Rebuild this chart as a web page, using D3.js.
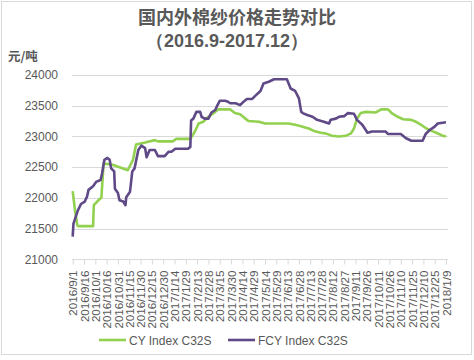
<!DOCTYPE html>
<html><head><meta charset="utf-8">
<script src="https://cdn.jsdelivr.net/npm/d3@7"></script>
<style>body{margin:0;background:#fff;}svg{display:block;font-family:Arial,"Liberation Sans",sans-serif;}</style>
</head><body>
<script>
const titleLines = ["国内外棉纱价格走势对比", "（2016.9-2017.12）"];
const unitLabel = "元/吨";
const seriesNames = ["CY Index C32S", "FCY Index C32S"];
const yTicks = [21000, 21500, 22000, 22500, 23000, 23500, 24000];
const xTicks = ["2016-09-01","2016-09-16","2016-10-01","2016-10-16","2016-10-31","2016-11-15","2016-11-30","2016-12-15","2016-12-30","2017-01-14","2017-01-29","2017-02-13","2017-02-28","2017-03-15","2017-03-30","2017-04-14","2017-04-29","2017-05-14","2017-05-29","2017-06-13","2017-06-28","2017-07-13","2017-07-28","2017-08-12","2017-08-27","2017-09-11","2017-09-26","2017-10-11","2017-10-26","2017-11-10","2017-11-25","2017-12-10","2017-12-25","2018-01-09"];

const cyDates = ["2016-09-01","2016-09-04","2016-09-07","2016-09-08","2016-09-28","2016-09-29","2016-10-05","2016-10-09","2016-10-12","2016-10-24","2016-11-13","2016-11-20","2016-11-24","2016-12-06","2016-12-19","2016-12-23","2017-01-12","2017-01-16","2017-02-04","2017-02-10","2017-02-15","2017-02-21","2017-02-28","2017-03-09","2017-03-13","2017-03-29","2017-04-04","2017-04-11","2017-04-18","2017-04-22","2017-05-06","2017-05-14","2017-06-14","2017-06-23","2017-07-02","2017-07-05","2017-07-11","2017-07-18","2017-07-27","2017-08-02","2017-08-11","2017-08-20","2017-08-29","2017-09-05","2017-09-09","2017-09-13","2017-09-18","2017-09-25","2017-10-08","2017-10-15","2017-10-24","2017-10-30","2017-11-06","2017-11-13","2017-11-24","2017-11-30","2017-12-07","2017-12-14","2017-12-21","2017-12-27","2018-01-05","2018-01-09"];
const cyValues = [22110,21800,21560,21540,21540,21880,21960,22000,22560,22540,22450,22620,22870,22900,22940,22920,22920,22960,22960,23080,23210,23240,23320,23400,23440,23440,23380,23360,23290,23250,23240,23210,23210,23190,23160,23150,23130,23090,23060,23050,23010,23000,23010,23050,23130,23290,23380,23400,23390,23440,23440,23370,23320,23280,23270,23240,23190,23130,23090,23060,23010,23000];

const fcyDates = ["2016-09-01","2016-09-02","2016-09-08","2016-09-12","2016-09-17","2016-09-20","2016-09-22","2016-09-28","2016-10-02","2016-10-08","2016-10-10","2016-10-13","2016-10-17","2016-10-20","2016-10-22","2016-10-26","2016-10-27","2016-10-31","2016-11-02","2016-11-07","2016-11-10","2016-11-11","2016-11-16","2016-11-19","2016-11-22","2016-11-27","2016-12-01","2016-12-06","2016-12-08","2016-12-12","2016-12-19","2016-12-23","2017-01-01","2017-01-06","2017-01-10","2017-01-15","2017-02-01","2017-02-04","2017-02-05","2017-02-08","2017-02-12","2017-02-17","2017-02-19","2017-02-23","2017-02-28","2017-03-04","2017-03-09","2017-03-12","2017-03-15","2017-03-22","2017-03-25","2017-03-29","2017-04-05","2017-04-11","2017-04-16","2017-04-20","2017-04-27","2017-05-01","2017-05-08","2017-05-12","2017-05-19","2017-05-26","2017-06-12","2017-06-17","2017-06-23","2017-06-28","2017-07-01","2017-07-03","2017-07-09","2017-07-16","2017-07-22","2017-07-31","2017-08-07","2017-08-09","2017-08-16","2017-08-20","2017-08-27","2017-09-01","2017-09-09","2017-09-13","2017-09-20","2017-09-27","2017-10-03","2017-10-21","2017-10-24","2017-11-10","2017-11-17","2017-11-24","2017-12-09","2017-12-13","2017-12-18","2017-12-25","2017-12-29","2018-01-09"];
const fcyValues = [21370,21580,21800,21900,21940,22020,22130,22190,22260,22290,22400,22620,22650,22620,22480,22430,22150,22080,21960,21940,21880,22010,22100,22430,22480,22780,22850,22810,22660,22780,22780,22680,22680,22750,22750,22800,22800,22830,23260,23290,23400,23400,23320,23290,23290,23390,23430,23510,23580,23580,23570,23540,23540,23510,23570,23610,23610,23660,23740,23860,23890,23930,23930,23780,23740,23620,23400,23380,23350,23320,23270,23240,23210,23270,23290,23320,23330,23380,23370,23270,23190,23060,23080,23080,23040,23040,22970,22930,22930,23040,23100,23160,23210,23230];

const colors = ["#92d050", "#5f4a87"];
const W = 474, H = 360;
const parse = d3.timeParse("%Y-%m-%d");
const fmt = d3.timeFormat("%Y/%-m/%-d");

const svg = d3.select("body").append("svg").attr("width", W).attr("height", H);
svg.append("rect").attr("x",1.5).attr("y",1.5).attr("width",470).attr("height",353)
  .attr("fill","#fff").attr("stroke","#d9d9d9");

const x = d3.scaleTime().domain([parse(xTicks[0]), parse(xTicks[xTicks.length-1])]).range([72.7, 446]);
const y = d3.scaleLinear().domain([21000, 24000]).range([259.3, 75]);

// title
svg.append("text").attr("x",237).attr("y",24).attr("text-anchor","middle")
  .attr("font-size",18).attr("font-weight","bold").attr("fill","#595959")
  .attr("font-family","'Noto Sans CJK SC',sans-serif").text(titleLines[0]);
svg.append("text").attr("x",227).attr("y",47).attr("text-anchor","middle")
  .attr("font-size",18).attr("font-weight","bold").attr("fill","#595959")
  .text(titleLines[1]);
svg.append("text").attr("x",8).attr("y",61).attr("font-size",12.5).attr("font-weight","bold")
  .attr("fill","#595959").attr("font-family","'Noto Sans CJK SC',sans-serif").text(unitLabel);

// gridlines
svg.append("g").selectAll("line").data(yTicks).join("line")
  .attr("x1",72).attr("x2",448).attr("y1",d=>Math.round(y(d))+0.5).attr("y2",d=>Math.round(y(d))+0.5)
  .attr("stroke","#d9d9d9").attr("stroke-width",1);
svg.append("g").selectAll("text").data(yTicks).join("text")
  .attr("x",58).attr("y",d=>y(d)).attr("dy","0.35em").attr("text-anchor","end")
  .attr("font-size",12).attr("fill","#595959").text(d=>d);

// x axis
const xAxis = d3.axisBottom(x).tickValues(xTicks.map(parse)).tickSize(5).tickFormat(fmt);
const gx = svg.append("g").attr("transform",`translate(0,${Math.round(y(21000))+0.5})`).call(xAxis);
gx.select(".domain").remove();
gx.selectAll(".tick line").attr("stroke","#d9d9d9");
gx.selectAll(".tick text").attr("fill","#595959").attr("font-size",11.6)
  .attr("font-family","Arial,'Liberation Sans',sans-serif")
  .attr("transform","rotate(-90)").attr("text-anchor","end")
  .attr("x",-11).attr("y",0).attr("dy","0.35em");

// lines
const line = d3.line().x(d=>x(d[0])).y(d=>y(d[1]));
const series = [
  d3.zip(cyDates.map(parse), cyValues),
  d3.zip(fcyDates.map(parse), fcyValues)
];
svg.append("g").selectAll("path").data(series).join("path")
  .attr("d", line).attr("fill","none").attr("stroke",(d,i)=>colors[i])
  .attr("stroke-width",2.6).attr("stroke-linejoin","round");

// legend
const legX = [99, 228];
const leg = svg.append("g").selectAll("g").data(seriesNames).join("g")
  .attr("transform",(d,i)=>`translate(${legX[i]},340)`);
leg.append("line").attr("x1",0).attr("x2",27).attr("stroke",(d,i)=>colors[i]).attr("stroke-width",2.6);
leg.append("text").attr("x",30).attr("y",4.5).attr("font-size",12).attr("fill","#595959").text(d=>d);
</script>
</body></html>
